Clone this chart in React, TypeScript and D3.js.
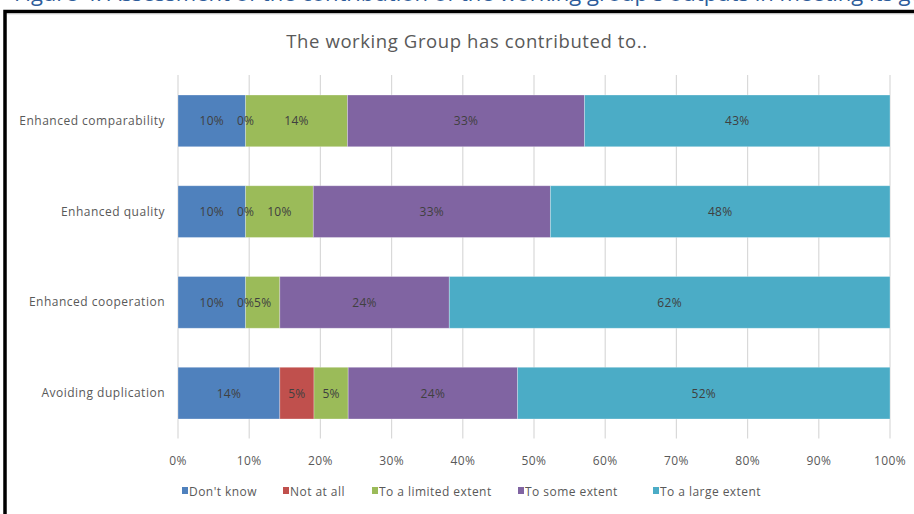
import { scaleLinear, scaleBand, stack } from "d3";

const width = 914;
const height = 514;

const categories = [
  "Enhanced comparability",
  "Enhanced quality",
  "Enhanced cooperation",
  "Avoiding duplication",
];
const seriesNames = ["Don't know", "Not at all", "To a limited extent", "To some extent", "To a large extent"];
const dontKnow = [9.5, 9.5, 9.5, 14.3];
const notAtAll = [0, 0, 0, 4.8];
const limitedExtent = [14.3, 9.5, 4.8, 4.8];
const someExtent = [33.3, 33.3, 23.8, 23.8];
const largeExtent = [42.9, 47.7, 61.9, 52.3];
const xTicks = [0, 10, 20, 30, 40, 50, 60, 70, 80, 90, 100];

const colors = ["#4F81BD", "#C0504D", "#9BBB59", "#8064A2", "#4BACC6"];
const legendX = [182, 283, 372, 518, 653];
const font = "'Open Sans', sans-serif";

const rows = categories.map((c, i) => ({
  category: c,
  [seriesNames[0]]: dontKnow[i],
  [seriesNames[1]]: notAtAll[i],
  [seriesNames[2]]: limitedExtent[i],
  [seriesNames[3]]: someExtent[i],
  [seriesNames[4]]: largeExtent[i],
}));

function App() {
  const xScale = scaleLinear().domain([0, 100]).range([178, 890]);
  const yScale = scaleBand<string>()
    .domain(categories)
    .range([75.5, 438.5])
    .paddingInner(0.43)
    .paddingOuter(0.215);

  const series = stack<any>().keys(seriesNames)(rows);

  return (
    <div style={{ position: "absolute", left: 0, top: 0 }}>
      <svg width={width} height={height} style={{ display: "block" }}>
        <rect width={width} height={height} fill="#fff" />
        {/* caption of the page, cut by the frame */}
        <text x={14} y={1} fontFamily={font} fontSize={22} fill="#2E5C9A">
          Figure 4: Assessment of the contribution of the working group's outputs in meeting its goals
        </text>
        <rect x={0} y={9} width={width} height={height} fill="#fff" />
        <rect x={5} y={11.5} width={1000} height={1000} fill="none" stroke="#000" strokeWidth={3.5} />
        <line x1={7} x2={width} y1={13.8} y2={13.8} stroke="#bfbfbf" strokeWidth={1} />

        <text x={467} y={48} textAnchor="middle" fontFamily={font} fontSize={18.5} letterSpacing={0.6} fill="#595959">
          The working Group has contributed to..
        </text>

        {xTicks.map((t) => (
          <g key={t} transform={`translate(${xScale(t)},0)`}>
            <line y1={75} y2={438.5} stroke="#d9d9d9" strokeWidth={1.2} />
            <text y={465} textAnchor="middle" fontFamily={font} fontSize={12} letterSpacing={0.4} fill="#595959">
              {t}%
            </text>
          </g>
        ))}

        {categories.map((c) => (
          <text
            key={c}
            x={165}
            y={(yScale(c) as number) + yScale.bandwidth() / 2 + 4}
            textAnchor="end"
            fontFamily={font}
            fontSize={12}
            letterSpacing={0.5}
            fill="#595959"
          >
            {c}
          </text>
        ))}

        {series.map((s, si) => (
          <g key={s.key}>
            {s.map((d, i) => (
              <rect
                key={i}
                x={xScale(d[0])}
                y={yScale(d.data.category)}
                width={Math.max(0, xScale(d[1]) - xScale(d[0]))}
                height={yScale.bandwidth()}
                fill={colors[si]}
                stroke="#ffffff"
                strokeOpacity={0.35}
                strokeWidth={0.8}
              />
            ))}
          </g>
        ))}

        {series.map((s) => (
          <g key={s.key + "-labels"}>
            {s.map((d, i) => (
              <text
                key={i}
                x={(xScale(d[0]) + xScale(d[1])) / 2}
                y={(yScale(d.data.category) as number) + yScale.bandwidth() / 2 + 4.5}
                textAnchor="middle"
                fontFamily={font}
                fontSize={12}
                letterSpacing={0.3}
                fill="#404040"
              >
                {Math.round(d[1] - d[0])}%
              </text>
            ))}
          </g>
        ))}

        {seriesNames.map((n, i) => (
          <g key={n} transform={`translate(${legendX[i]},491)`}>
            <rect x={0} y={-4} width={6} height={7} fill={colors[i]} />
            <text x={7} y={4.5} fontFamily={font} fontSize={12} letterSpacing={0.45} fill="#595959">
              {n}
            </text>
          </g>
        ))}
      </svg>
    </div>
  );
}

export default App;
